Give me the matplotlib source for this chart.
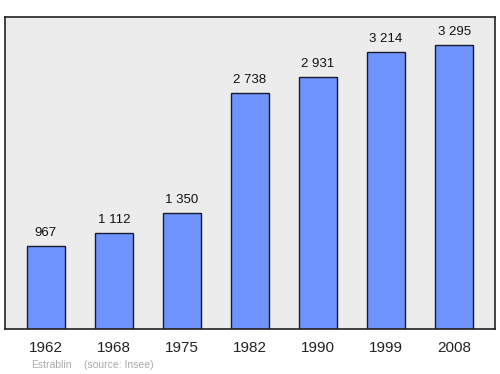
import matplotlib
matplotlib.use("Agg")
import matplotlib.pyplot as plt

years = ["1962", "1968", "1975", "1982", "1990", "1999", "2008"]
population = [967, 1112, 1350, 2738, 2931, 3214, 3295]
labels = ["967", "1 112", "1 350", "2 738", "2 931", "3 214", "3 295"]

plt.rcParams["font.family"] = ["Liberation Sans", "DejaVu Sans"]

fig = plt.figure(figsize=(5, 3.74), dpi=100)
ax = fig.add_axes([0.01, 1 - 329 / 374, 0.98, 312 / 374])
ax.set_facecolor("#ececec")

x = list(range(len(years)))
ax.bar(x, population, width=0.56, color="#7094ff", edgecolor="#1a1a2e", linewidth=1, zorder=2)

for xi, v, lab in zip(x, population, labels):
    ax.annotate(lab, (xi, v), xytext=(0, 5), textcoords="offset points",
                ha="center", va="bottom", fontsize=9.5, color="#111111")

ax.set_xlim(-0.6, 6.6)
ax.set_ylim(0, 3295 * 1.1)
ax.set_xticks(x)
ax.set_xticklabels(years, fontsize=11, color="#222222")
ax.tick_params(axis="x", length=0, pad=9)
ax.set_yticks([])
for s in ax.spines.values():
    s.set_color("#222222")
    s.set_linewidth(1.2)

fig.text(31 / 500, 1 - 365 / 374, "Estrablin", fontsize=7.5, color="#aaaaaa", va="center")
fig.text(84 / 500, 1 - 365 / 374, "(source: Insee)", fontsize=7.5, color="#aaaaaa", va="center")

fig.savefig("out.png", dpi=100)
